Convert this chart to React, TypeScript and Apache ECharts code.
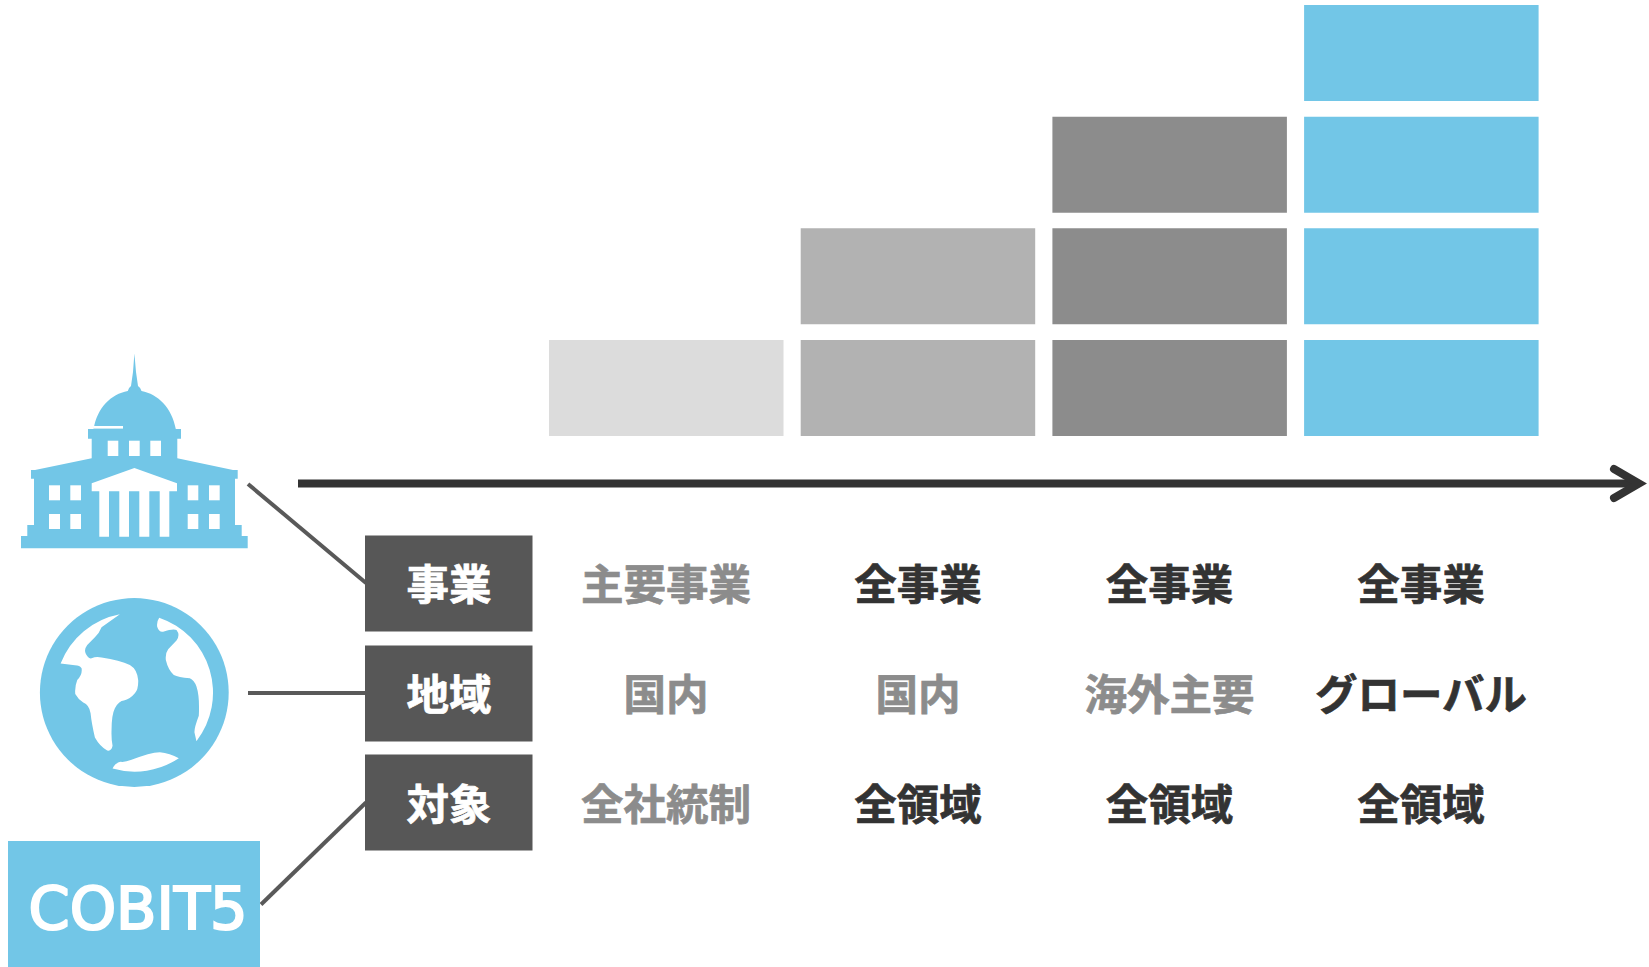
import React, { useEffect, useRef } from "react";
import * as echarts from "echarts";

// Staircase of coverage: how many tiers each of the four phases stacks up.
const phases = ["phase1", "phase2", "phase3", "phase4"];
const tierCounts = [1, 2, 3, 4];
const phaseColors = ["#DCDCDC", "#B2B2B2", "#8C8C8C", "#72C6E7"];
const TIER_GAP = 0.163;

// Scope table under the arrow.
const rowLabels = ["事業", "地域", "対象"];
const businessScope = ["主要事業", "全事業", "全事業", "全事業"];
const regionScope = ["国内", "国内", "海外主要", "グローバル"];
const targetScope = ["全社統制", "全領域", "全領域", "全領域"];
const businessReached = [false, true, true, true];
const regionReached = [false, false, false, true];
const targetReached = [false, true, true, true];

const BLUE = "#72C6E7";
const BOX = "#575757";
const INK = "#333333";
const MUTED = "#8C8C8C";
const JP = '"Noto Sans CJK JP", sans-serif';

const columnCentres = [666, 918, 1169.5, 1421];
const rowCentres = [581.5, 691.5, 801];

// Capitol silhouette, drawn in page pixels.
const capitolPath =
  "M134.4 353.5 L136 372 L138 386 Q141 388 141.5 391 C158 394 172 408 175.8 429 L181 429 L181 438.7 L177.3 438.7 L177.3 458.3 " +
  "L233 470 L237.7 470 L237.7 478.7 L235 478.7 L235 525 L241.7 525 L241.7 536 L247.7 536 L247.7 548.3 " +
  "L21 548.3 L21 536 L27.3 536 L27.3 525 L34 525 L34 478.7 L31 478.7 L31 470 L35 470 L91.7 458.3 L91.7 438.7 L88 438.7 L88 429 " +
  "L93.7 429 C97 408 111 394 127.8 391 Q128.3 388 131 386 L133 372 Z";
const pedimentPath =
  "M134.4 468 L177 483.3 L177 491.3 L169.3 491.3 L169.3 536.7 L159.7 536.7 L159.7 491.3 L149.3 491.3 L149.3 536.7 L139.3 536.7 L139.3 491.3 " +
  "L129 491.3 L129 536.7 L119.3 536.7 L119.3 491.3 L109 491.3 L109 536.7 L99.3 536.7 L99.3 491.3 L91.7 491.3 L91.7 483.3 Z";
const capitolWindows = [
  [107.7, 440.7, 10.6, 15.3], [129, 440.7, 10.7, 15.3], [150.3, 440.7, 10.7, 15.3],
  [49, 485.3, 11, 15], [70.3, 485.3, 10.7, 15], [187.7, 485.3, 10.6, 15], [209, 485.3, 10.7, 15],
  [49, 514, 11, 15], [70.3, 514, 10.7, 15], [187.7, 514, 10.6, 15], [209, 514, 10.7, 15],
  [94, 426, 29, 2.6],
];

// Globe continents, drawn at three times page scale around the disc.
const continentsPath =
  "M182 221 A238 238 0 0 1 360 73 L305 112 Q298 130 285 142 L262 165 Q252 178 257 190 Q265 208 275 205 Q290 198 305 203 Q360 212 390 225 " +
  "Q412 238 415 270 Q416 298 405 310 Q390 328 372 332 Q358 332 345 355 Q335 375 335 420 Q334 450 338 468 Q335 485 322 482 Q300 470 285 443 " +
  "Q275 400 272 370 Q268 345 250 338 Q235 328 226 312 Q224 290 232 270 Q248 255 245 235 Q240 226 225 226 Z " +
  "M478 83 A238 238 0 0 1 590 454 L584 428 Q583 415 597 378 Q600 320 590 290 Q583 270 570 265 Q535 262 522 255 Q505 240 498 210 Q496 190 505 178 " +
  "L530 152 Q542 135 530 120 Q520 115 490 125 Q478 128 472 110 Q470 95 478 83 Z " +
  "M338 536 Q345 520 362 516 Q375 518 395 510 Q450 488 480 487 Q510 490 537 505 A238 238 0 0 1 338 536 Z";

echarts.graphic.registerShape("capitol", echarts.graphic.extendPath(capitolPath, {}));
echarts.graphic.registerShape("pediment", echarts.graphic.extendPath(pedimentPath, {}));
echarts.graphic.registerShape("continents", echarts.graphic.extendPath(continentsPath, {}));

const heavyText = (text: string, fill: string) => ({
  text,
  fill,
  stroke: fill,
  lineWidth: 0.7,
  font: `bold 42.5px ${JP}`,
  align: "center",
  verticalAlign: "middle",
});

const scopeCell = (text: string, col: number, row: number, reached: boolean) => ({
  type: "text",
  x: columnCentres[col],
  y: rowCentres[row],
  style: heavyText(text, reached ? INK : MUTED),
});

const connector = (x1: number, y1: number, x2: number, y2: number) => ({
  type: "line",
  shape: { x1, y1, x2, y2 },
  style: { stroke: "#595959", lineWidth: 4 },
});

function buildOption() {
  const series: any[] = [];
  for (let tier = 0; tier < 4; tier++) {
    series.push({
      type: "bar",
      stack: "steps",
      barWidth: 234.5,
      silent: true,
      data: tierCounts.map((n, i) =>
        tier < n ? { value: 1, itemStyle: { color: phaseColors[i] } } : null
      ),
    });
    if (tier < 3) {
      series.push({
        type: "bar",
        stack: "steps",
        barWidth: 234.5,
        silent: true,
        itemStyle: { color: "transparent" },
        data: tierCounts.map((n) => (tier + 1 < n ? TIER_GAP : null)),
      });
    }
  }

  const graphic: any[] = [
    // Timeline arrow
    { type: "line", shape: { x1: 298, y1: 483.5, x2: 1636, y2: 483.5 }, style: { stroke: INK, lineWidth: 8 } },
    {
      type: "polyline",
      shape: { points: [[1614, 469], [1639, 483.5], [1614, 498]] },
      style: { stroke: INK, lineWidth: 8, lineCap: "round", lineJoin: "miter", fill: "none" },
    },
    connector(248, 484, 366, 583),
    connector(248, 693, 366, 693),
    connector(261, 904.5, 366, 802.5),
    // Capitol icon
    { type: "capitol", style: { fill: BLUE } },
    { type: "pediment", style: { fill: "#ffffff" } },
    ...capitolWindows.map(([x, y, width, height]) => ({
      type: "rect",
      shape: { x, y, width, height },
      style: { fill: "#ffffff" },
    })),
    // Globe icon
    { type: "circle", shape: { cx: 134.3, cy: 692.5, r: 94.4 }, style: { fill: BLUE } },
    { type: "continents", x: 0, y: 590, scaleX: 1 / 3, scaleY: 1 / 3, style: { fill: "#ffffff" } },
    // Framework badge
    { type: "rect", shape: { x: 8, y: 841, width: 252, height: 126 }, style: { fill: BLUE } },
    {
      type: "text",
      x: 138,
      y: 908,
      style: {
        text: "COBIT5",
        fill: "#ffffff",
        stroke: "#ffffff",
        lineWidth: 2.2,
        font: '59px "DejaVu Sans", sans-serif',
        align: "center",
        verticalAlign: "middle",
      },
    },
  ];

  const boxTops = [535.5, 645.5, 754.5];
  rowLabels.forEach((label, row) => {
    graphic.push({
      type: "rect",
      shape: { x: 365, y: boxTops[row], width: 167.5, height: 96 },
      style: { fill: BOX },
    });
    graphic.push({
      type: "text",
      x: 449,
      y: rowCentres[row],
      style: heavyText(label, "#ffffff"),
    });
  });

  phases.forEach((_, col) => {
    graphic.push(scopeCell(businessScope[col], col, 0, businessReached[col]));
    graphic.push(scopeCell(regionScope[col], col, 1, regionReached[col]));
    graphic.push(scopeCell(targetScope[col], col, 2, targetReached[col]));
  });

  return {
    animation: false,
    backgroundColor: "#ffffff",
    grid: { left: 540.4, top: 5, width: 1006.8, height: 431 },
    xAxis: { type: "category", data: phases, show: false },
    yAxis: { type: "value", min: 0, max: 4 + 3 * TIER_GAP, show: false },
    series,
    graphic,
  };
}

export default function App() {
  const ref = useRef<HTMLDivElement>(null);
  useEffect(() => {
    document.body.style.margin = "0";
    const chart = echarts.init(ref.current!, undefined, { renderer: "svg" });
    chart.setOption(buildOption() as any);
    return () => chart.dispose();
  }, []);
  return <div ref={ref} style={{ width: 1649, height: 967 }} />;
}
